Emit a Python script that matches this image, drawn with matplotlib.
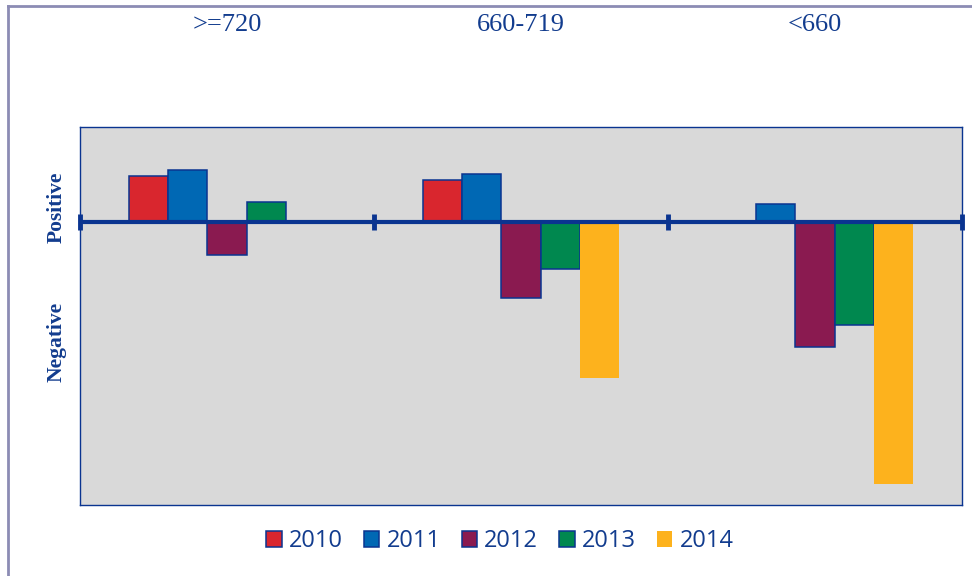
import matplotlib.pyplot as plt
import numpy as np
from matplotlib.lines import Line2D

# score bands and the relative change per year (arbitrary units)
bands = [">=720", "660-719", "<660"]
years = ["2010", "2011", "2012", "2013", "2014"]
v2010 = [46, 42, 0]
v2011 = [52, 48, 18]
v2012 = [-33, -76, -125]
v2013 = [20, -47, -103]
v2014 = [0, -156, -262]

series = [v2010, v2011, v2012, v2013, v2014]
colors = ["#D9262E", "#0068B4", "#8A1A50", "#00884F", "#FDB21D"]
edges = ["#0A3490", "#0A3490", "#0A3490", "#0A3490", "none"]
navy = "#0A3490"
text_blue = "#123C8E"

fig = plt.figure(figsize=(9.72, 5.76), dpi=100)
ax = fig.add_axes([80 / 972, 1 - 505 / 576, 882 / 972, 378 / 576])
ax.set_facecolor("#D9D9D9")

x = np.arange(len(bands))
width = 2 / 3 / len(years)
for i, (vals, c, ec) in enumerate(zip(series, colors, edges)):
    offs = (i - 2) * width
    ax.bar(x + offs, vals, width, color=c, edgecolor=ec, linewidth=1.1,
           label=years[i], zorder=2)

# thick zero line with band separators
ax.axhline(0, color=navy, lw=3, zorder=3)
ax.plot([-0.5, 0.5, 1.5, 2.5], [0, 0, 0, 0], ls="none", marker="|",
        ms=12, mew=3.5, color=navy, zorder=4, clip_on=False)

ax.set_xlim(-0.5, 2.5)
ax.set_ylim(-283, 95)
ax.set_xticks([])
ax.set_yticks([])
for s in ax.spines.values():
    s.set_color(navy)
    s.set_linewidth(1.0)

# band labels across the top
for xi, b in zip(x, bands):
    xf = (80 + (xi + 0.5) * 294) / 972
    fig.text(xf, 1 - 25 / 576, b, ha="center", va="center",
             family="Liberation Serif", fontsize=19, color=text_blue)

fig.text(57 / 972, 1 - 207 / 576, "Positive", rotation=90, ha="center", va="center",
         family="Liberation Serif", fontweight="bold", fontsize=15.5, color=text_blue)
fig.text(57 / 972, 1 - 342 / 576, "Negative", rotation=90, ha="center", va="center",
         family="Liberation Serif", fontweight="bold", fontsize=15.5, color=text_blue)

# outer frame: only top and left edges
fig.add_artist(Line2D([8 / 972, 8 / 972], [0, 1 - 6 / 576], color="#8C8CB4", lw=2))
fig.add_artist(Line2D([8 / 972, 1], [1 - 6 / 576, 1 - 6 / 576], color="#8C8CB4", lw=2))

leg = fig.legend(loc="center", bbox_to_anchor=(500 / 972, 1 - 541 / 576), ncol=5,
                 frameon=False, handlelength=0.65, handleheight=0.65, handletextpad=0.3,
                 columnspacing=0.9, prop={"family": "Open Sans", "size": 17})
for t in leg.get_texts():
    t.set_color(text_blue)

fig.savefig("out.png", dpi=100)
